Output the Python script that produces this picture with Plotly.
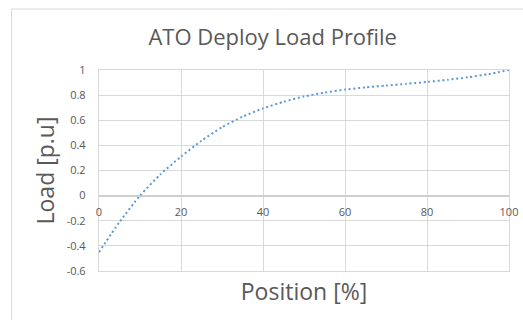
import plotly.graph_objects as go

position = [0, 5, 10, 15, 20, 25, 30, 35, 40, 45, 50, 55, 60, 65, 70, 75, 80, 85, 90, 95, 100]
load = [-0.45, -0.21, 0.0, 0.17, 0.31, 0.437, 0.545, 0.628, 0.694, 0.747, 0.789, 0.82,
        0.844, 0.862, 0.876, 0.89, 0.905, 0.922, 0.942, 0.967, 1.0]
x_ticks = [0, 20, 40, 60, 80, 100]
y_ticks = [-0.6, -0.4, -0.2, 0, 0.2, 0.4, 0.6, 0.8, 1]
y_tick_text = ["-0.6", "-0.4", "-0.2", "0", "0.2", "0.4", "0.6", "0.8", "1"]

FONT = "Open Sans"
TXT = "#595959"
GRID = "#d9d9d9"

fig = go.Figure()
fig.add_trace(go.Scatter(
    x=position, y=load, mode="lines",
    line=dict(color="#5B9BD5", width=2, dash="2px,2.7px", shape="spline", smoothing=0.6),
    showlegend=False, hoverinfo="skip",
))

fig.update_layout(
    width=523, height=320,
    margin=dict(l=99, r=14, t=70, b=49, autoexpand=False),
    paper_bgcolor="white", plot_bgcolor="white",
    font=dict(family=FONT, color=TXT),
    title=dict(text="ATO Deploy Load Profile", x=0.5214, xref="container", xanchor="center",
               y=1 - 37 / 320, yref="container", yanchor="middle", automargin=False,
               font=dict(family=FONT, size=22, color=TXT)),
    xaxis=dict(range=[0, 100], tickvals=x_ticks, showticklabels=False, automargin=False,
               color=TXT,
               showgrid=True, gridcolor=GRID, gridwidth=1.3,
               showline=True, linecolor=GRID, linewidth=1.3, mirror=True,
               zeroline=False, ticks="",
               title=dict(text="Position [%]", font=dict(family=FONT, size=23, color=TXT), standoff=12)),
    xaxis2=dict(range=[0, 100], tickvals=x_ticks, overlaying="x", anchor="free", position=0.375,
                color=TXT,
                showgrid=False, showline=False, zeroline=False, ticks="", automargin=False,
                ticklabelstandoff=8,
                tickfont=dict(family=FONT, size=11, color=TXT)),
    yaxis=dict(range=[-0.6, 1], tickvals=y_ticks, ticktext=y_tick_text, domain=[0, 1],
               automargin=False, color=TXT,
               showgrid=True, gridcolor=GRID, gridwidth=1.3,
               showline=True, linecolor=GRID, linewidth=1.3, mirror=True,
               zeroline=True, zerolinecolor="#cfcfcf", zerolinewidth=1.6,
               ticks="", ticklabelstandoff=10,
               tickfont=dict(family=FONT, size=11, color=TXT),
               title=dict(text="Load [p.u]", font=dict(family=FONT, size=23, color=TXT), standoff=5)),
    shapes=[dict(type="rect", xref="paper", yref="paper",
                 x0=(11.5 - 99) / 410, x1=1.2, y0=-0.6, y1=(271 - 9) / 201,
                 line=dict(color=GRID, width=1), fillcolor="rgba(0,0,0,0)", layer="below")],
)
# empty trace on xaxis2 so the crossing axis renders
fig.add_trace(go.Scatter(x=[None], y=[None], xaxis="x2", showlegend=False, hoverinfo="skip",
                         line=dict(color=TXT)))

fig.write_html("out.html", config={"displayModeBar": False},
               post_script="document.body.style.margin='0';document.body.style.overflow='hidden';")
